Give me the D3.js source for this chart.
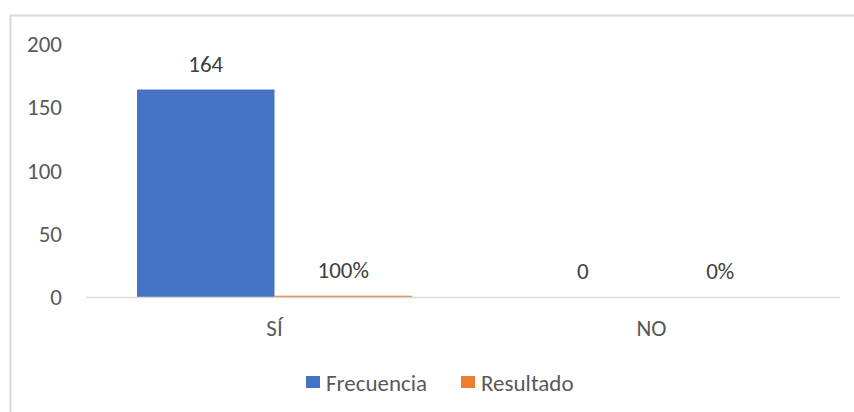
<!DOCTYPE html>
<html>
<head>
<meta charset="utf-8">
<script src="https://cdn.jsdelivr.net/npm/d3@7"></script>
<style>
  body { margin: 0; background: #fff; }
  svg { display: block; font-family: Calibri, Carlito, "Open Sans", sans-serif; }
</style>
</head>
<body>
<svg id="chart"></svg>
<script>
const categories = ["SÍ", "NO"]
const seriesNames = ["Frecuencia", "Resultado"]
const frecuencia = [164, 0]
const resultado = [1, 0]          // 100% and 0%, drawn on the same axis
const valueLabels = [["164", "100%"], ["0", "0%"]]
const yTicks = [0, 50, 100, 150, 200]
const colors = ["#4472c4", "#ed7d31"]

const width = 854
const height = 412
const margin = { top: 44, right: 14, bottom: 115, left: 86 }
const bodyWidth = width - margin.left - margin.right
const bodyHeight = height - margin.top - margin.bottom
const fontSize = 23

const svg = d3.select("#chart")
    .attr("width", width)
    .attr("height", height)

// chart frame (right and bottom edges fall outside the picture)
svg.append("rect")
    .attr("x", 10.5)
    .attr("y", 15.5)
    .attr("width", width)
    .attr("height", height)
    .attr("fill", "none")
    .attr("stroke", "#d9d9d9")
    .attr("stroke-width", 2)

const rows = categories.map((c, i) => ({
    cat: c,
    values: [frecuencia[i], resultado[i]],
    labels: valueLabels[i]
}))

const xScale = d3.scaleBand()
    .domain(categories)
    .range([0, bodyWidth])
    .paddingInner(0)
    .paddingOuter(0)

const xInner = d3.scaleBand()
    .domain(seriesNames)
    .range([0, xScale.bandwidth()])
    .paddingOuter(0.371)
    .paddingInner(0)

const yScale = d3.scaleLinear()
    .domain([0, 200])
    .range([bodyHeight, 0])

const body = svg.append("g")
    .attr("transform", `translate(${margin.left}, ${margin.top})`)

// y tick labels
body.selectAll(".ylab")
    .data(yTicks)
    .enter()
    .append("text")
    .attr("class", "ylab")
    .attr("x", -24)
    .attr("y", d => yScale(d))
    .attr("dy", "0.35em")
    .attr("text-anchor", "end")
    .attr("font-size", fontSize)
    .attr("fill", "#595959")
    .text(d => d)

const groups = body.selectAll(".grp")
    .data(rows)
    .enter()
    .append("g")
    .attr("class", "grp")
    .attr("transform", d => `translate(${xScale(d.cat)}, 0)`)

groups.selectAll("rect")
    .data(d => d.values.map((v, j) => ({ name: seriesNames[j], v: v, j: j })))
    .enter()
    .append("rect")
    .attr("x", d => xInner(d.name))
    .attr("width", xInner.bandwidth())
    .attr("y", d => yScale(d.v))
    .attr("height", d => bodyHeight - yScale(d.v))
    .attr("fill", d => colors[d.j])

groups.selectAll(".vlab")
    .data(d => d.values.map((v, j) => ({ name: seriesNames[j], v: v, label: d.labels[j] })))
    .enter()
    .append("text")
    .attr("class", "vlab")
    .attr("x", d => xInner(d.name) + xInner.bandwidth() / 2)
    .attr("y", d => yScale(d.v) - 18)
    .attr("text-anchor", "middle")
    .attr("font-size", fontSize)
    .attr("fill", "#404040")
    .text(d => d.label)

// baseline
body.append("line")
    .attr("x1", 0)
    .attr("x2", bodyWidth)
    .attr("y1", yScale(0) + 0.5)
    .attr("y2", yScale(0) + 0.5)
    .attr("stroke", "#d9d9d9")
    .attr("stroke-width", 1.5)

// category labels
body.selectAll(".xlab")
    .data(categories)
    .enter()
    .append("text")
    .attr("class", "xlab")
    .attr("x", d => xScale(d) + xScale.bandwidth() / 2)
    .attr("y", bodyHeight + 31)
    .attr("dy", "0.35em")
    .attr("text-anchor", "middle")
    .attr("font-size", fontSize)
    .attr("fill", "#595959")
    .text(d => d)

// legend
const legend = svg.append("g")
    .attr("transform", "translate(306, 382.5)")

const legendX = [0, 155]
seriesNames.forEach((name, i) => {
    legend.append("rect")
        .attr("x", legendX[i])
        .attr("y", -6.5)
        .attr("width", 14)
        .attr("height", 12)
        .attr("fill", colors[i])
    legend.append("text")
        .attr("x", legendX[i] + 20)
        .attr("y", 0)
        .attr("dy", "0.35em")
        .attr("font-size", fontSize)
        .attr("fill", "#595959")
        .text(name)
})
</script>
</body>
</html>
